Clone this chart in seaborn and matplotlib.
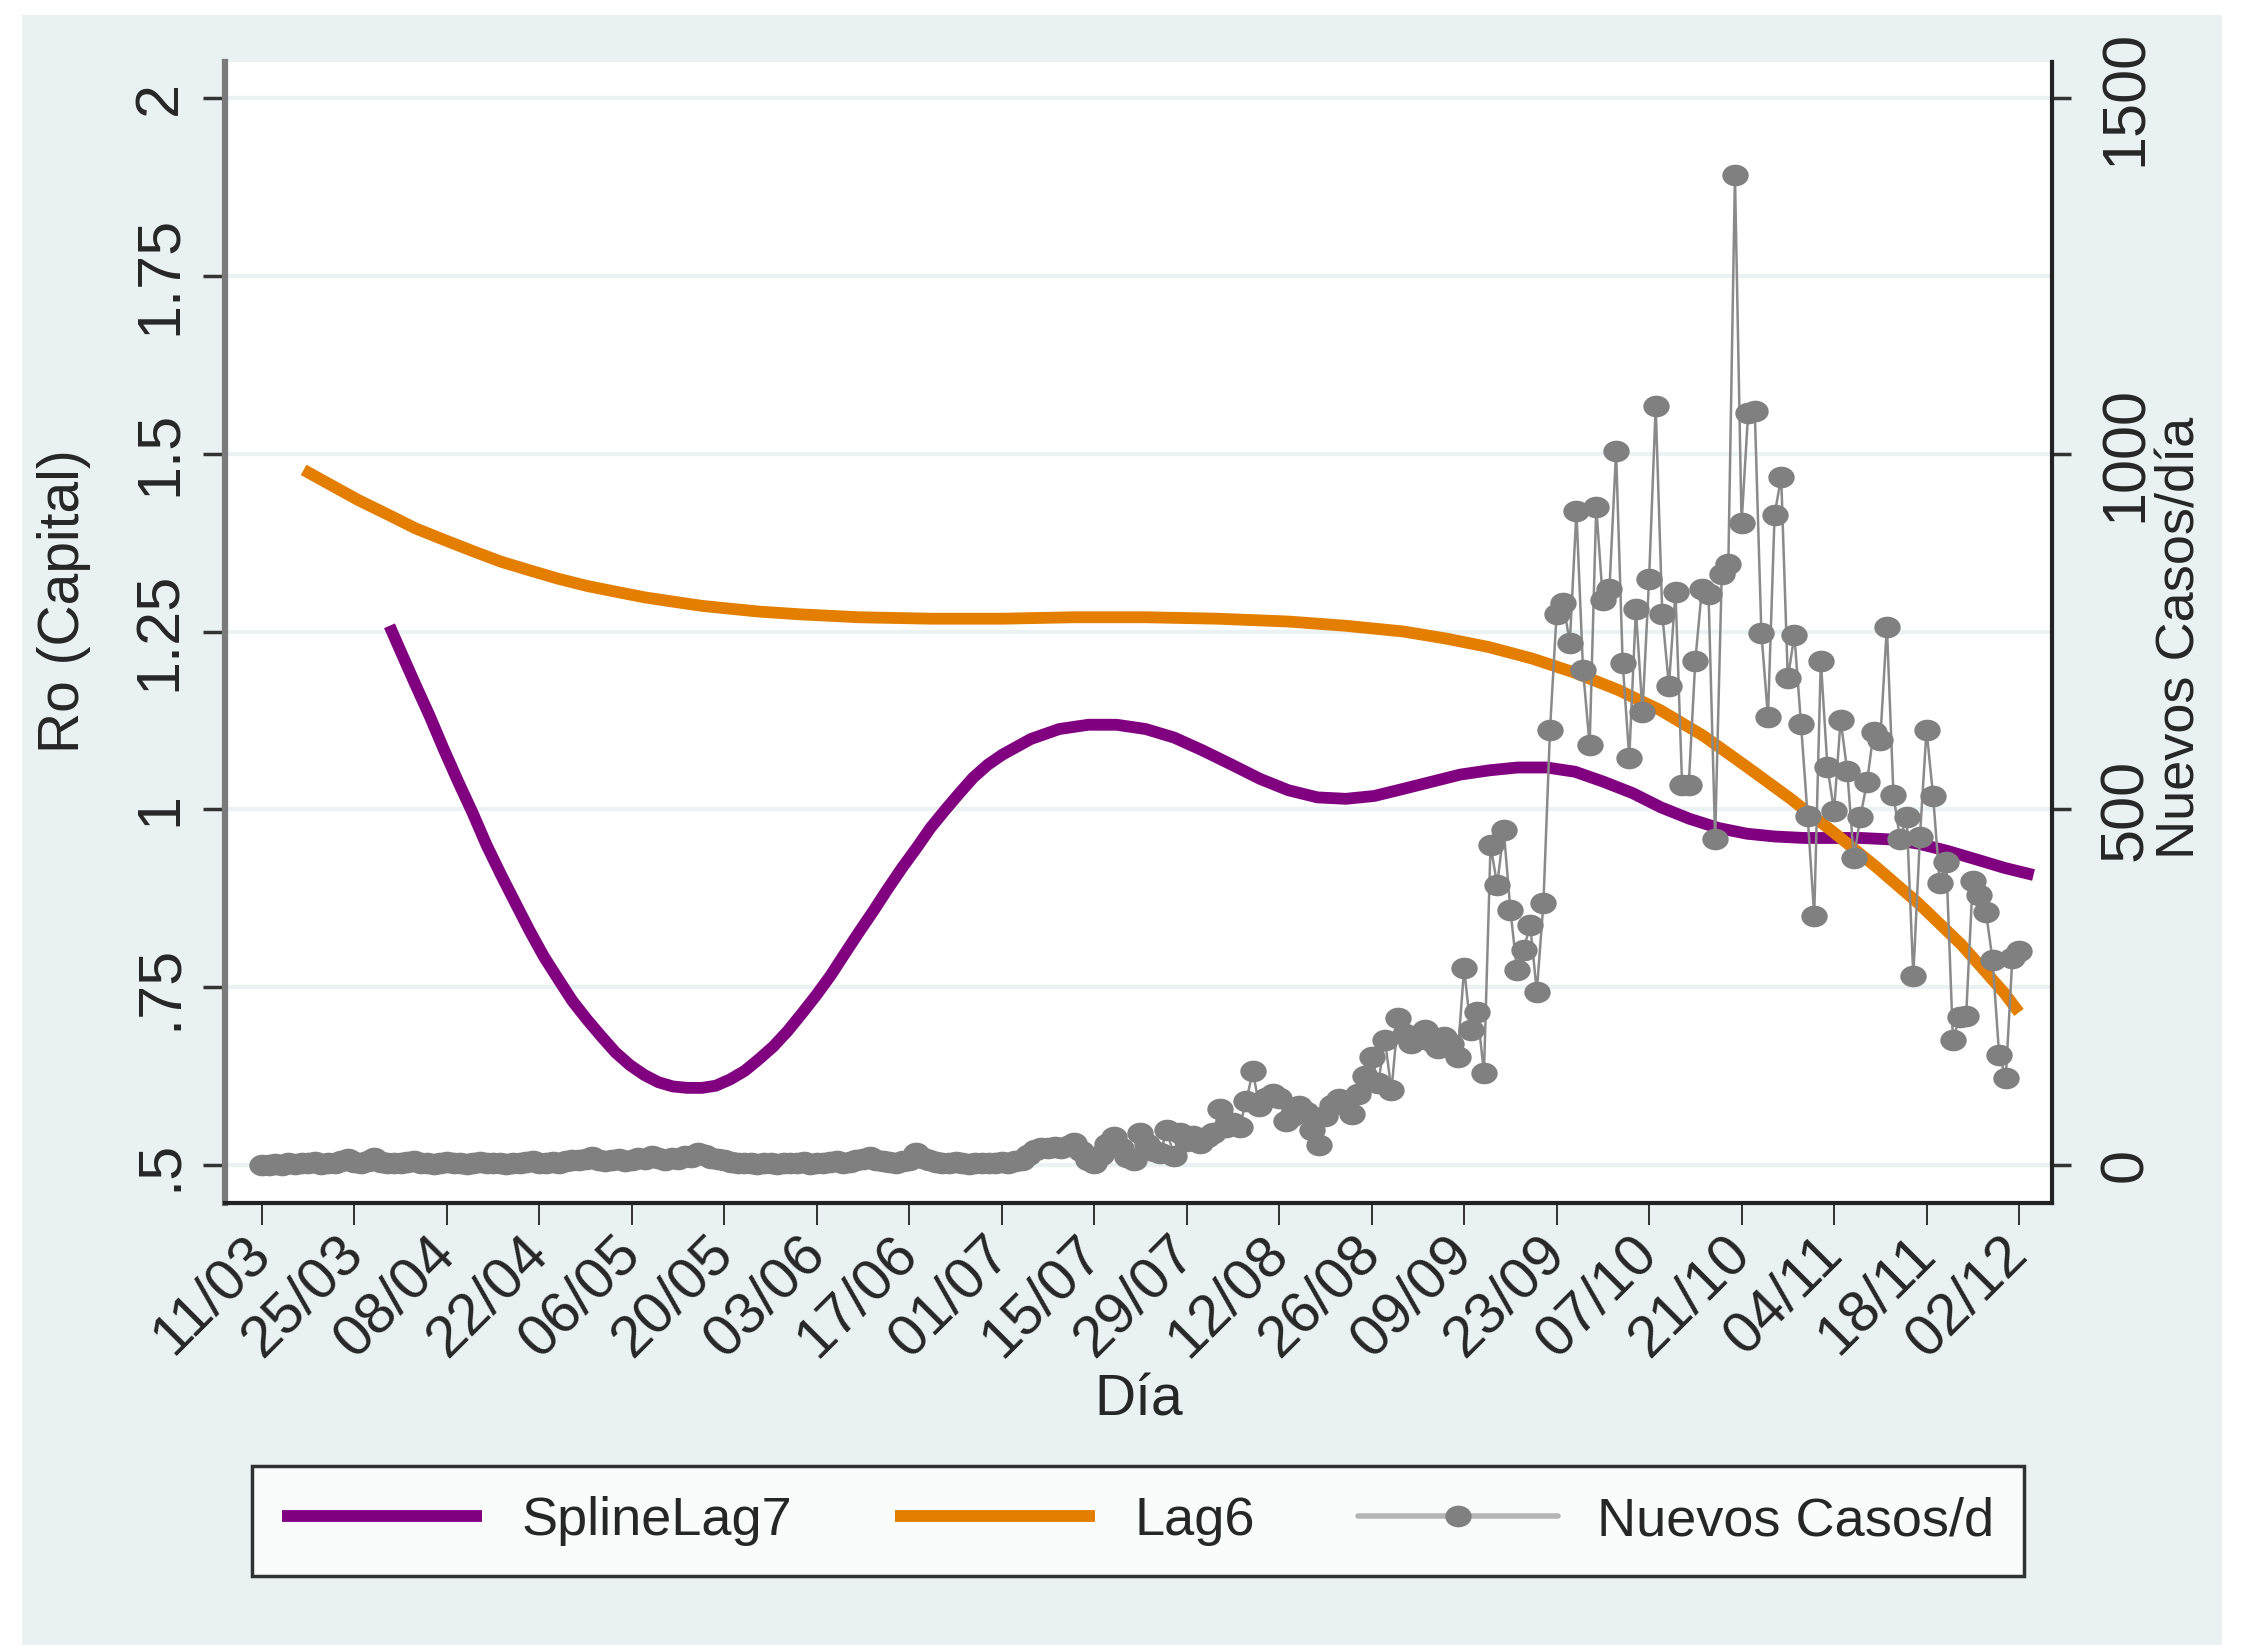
import numpy as np
import matplotlib
matplotlib.use("Agg")
import matplotlib.pyplot as plt
import seaborn as sns
from matplotlib.path import Path
from matplotlib.lines import Line2D
from matplotlib.patches import Rectangle

# ---------------- data ----------------
tick_labels = ["11/03", "25/03", "08/04", "22/04", "06/05", "20/05", "03/06",
               "17/06", "01/07", "15/07", "29/07", "12/08", "26/08", "09/09",
               "23/09", "07/10", "21/10", "04/11", "18/11", "02/12"]
tick_days = [0, 14, 28, 42, 56, 70, 84, 98, 112, 126, 140, 154, 168, 182,
             196, 210, 224, 238, 252, 266]

ro_ticks = [0.5, 0.75, 1.0, 1.25, 1.5, 1.75, 2.0]
ro_tick_labels = [".5", ".75", "1", "1.25", "1.5", "1.75", "2"]
cases_ticks = [0, 500, 1000, 1500]
cases_tick_labels = ["0", "500", "1000", "1500"]

# SplineLag7 (Ro), day index since 11/03
spline_days = [19.3, 21.0, 23.2, 25.4, 27.5, 29.7, 31.9, 34.0, 36.2, 38.4,
               40.5, 42.7, 44.9, 47.0, 49.2, 51.4, 53.5, 55.7, 57.9, 60.0,
               62.2, 64.4, 66.6, 68.7, 70.9, 73.1, 75.2, 77.4, 79.6, 81.7,
               83.9, 86.1, 88.2, 90.4, 92.6, 94.7, 96.9, 99.1, 101.2, 103.4,
               105.6, 107.7, 109.9, 112.1, 116.4, 120.7, 125.1, 129.4, 133.8,
               138.1, 142.4, 146.8, 151.1, 155.4, 159.8, 164.1, 168.4, 172.8,
               177.1, 181.4, 185.8, 190.1, 194.5, 198.8, 203.1, 207.5, 211.8,
               216.1, 220.5, 224.8, 229.1, 233.5, 237.8, 242.1, 246.5, 250.8,
               255.1, 259.5, 263.8, 268.2]
spline_ro = [1.258, 1.222, 1.176, 1.131, 1.085, 1.039, 0.995, 0.950, 0.908,
             0.868, 0.830, 0.793, 0.761, 0.731, 0.705, 0.681, 0.659, 0.641,
             0.627, 0.617, 0.611, 0.609, 0.609, 0.612, 0.621, 0.633, 0.649,
             0.667, 0.689, 0.713, 0.739, 0.767, 0.797, 0.828, 0.858, 0.888,
             0.918, 0.946, 0.974, 0.999, 1.023, 1.045, 1.063, 1.077, 1.099,
             1.113, 1.119, 1.119, 1.113, 1.101, 1.083, 1.063, 1.043, 1.027,
             1.017, 1.015, 1.019, 1.029, 1.039, 1.049, 1.055, 1.059, 1.059,
             1.053, 1.039, 1.023, 1.003, 0.987, 0.974, 0.966, 0.962, 0.960,
             0.960, 0.960, 0.958, 0.952, 0.942, 0.930, 0.918, 0.908]

# Lag6 (Ro)
lag6_days = [6.3, 10.2, 14.5, 18.9, 23.2, 27.5, 31.9, 36.2, 40.5, 44.9, 49.2,
             53.5, 57.9, 62.2, 66.6, 70.9, 75.2, 81.7, 90.4, 101.2, 112.1,
             122.9, 133.8, 144.6, 155.4, 164.1, 172.8, 179.3, 185.8, 192.3,
             198.8, 205.3, 211.8, 218.3, 224.8, 231.3, 237.8, 244.3, 250.8,
             257.3, 263.8, 266.0]
lag6_ro = [1.477, 1.457, 1.435, 1.415, 1.395, 1.379, 1.363, 1.348, 1.336,
           1.324, 1.314, 1.306, 1.298, 1.292, 1.286, 1.282, 1.278, 1.274,
           1.270, 1.268, 1.268, 1.270, 1.270, 1.268, 1.264, 1.258, 1.250,
           1.240, 1.228, 1.212, 1.192, 1.168, 1.139, 1.103, 1.060, 1.016,
           0.969, 0.920, 0.868, 0.810, 0.742, 0.715]

# Nuevos casos por dia (daily, from 11/03)
cases_mar_may = [1, 0, 2, 1, 3, 2, 4, 3, 5, 2,
                 4, 3, 6, 9, 5, 4, 6, 10, 5, 3,
                 4, 3, 5, 6, 4, 3, 2, 4, 5, 3,
                 4, 2, 3, 5, 4, 3, 4, 2, 3, 4,
                 5, 6, 4, 3, 5, 4, 6, 8, 7, 9,
                 12, 8, 6, 7, 9, 6, 8, 10, 9, 13,
                 10, 8, 11, 9, 14, 12, 18, 15, 11, 9]
cases_may_jun = [7, 5, 4, 3, 4, 2, 3, 4, 2, 3,
                 4, 3, 5, 2, 4, 3, 5, 6, 4, 5,
                 7, 9, 12, 8, 6, 5, 4, 6, 8, 17,
                 10, 7, 5, 4, 3, 5, 4, 2, 3, 4]
cases_jun_aug = [4, 3, 5, 4, 6, 8, 15, 22, 25, 24,
                 26, 25, 28, 31, 20, 8, 3, 15, 30, 40,
                 25, 12, 8, 45, 30, 20, 17, 50, 14, 45,
                 35, 42, 31, 40, 45, 80, 54, 60, 54, 90,
                 132, 83, 95, 100, 95, 62, 70, 83, 75, 50,
                 29, 70, 85, 93, 88, 73, 100, 125, 153, 116,
                 176, 106, 207]
cases_aug_sep = [185, 172, 178, 190, 175, 165, 180, 170, 153, 277,
                 190, 216, 130, 450, 394, 471, 359, 274, 303, 338,
                 244, 368, 612, 775, 790, 734, 919, 696, 590, 925,
                 794, 810]
cases_oct = [1003, 706, 573, 781, 637, 824, 1067, 774, 674, 806,
             534, 534, 709, 810, 803, 459, 831, 845, 1391, 902,
             1057, 1060, 748, 630, 914, 967, 684, 745, 620, 491, 351]
cases_nov = [709, 560, 498, 626, 554, 432, 490, 539, 609, 598,
             757, 520, 458, 490, 266, 461, 612, 519, 397, 426,
             176, 208, 210, 400, 380, 356, 289, 155, 123, 292, 301]

cases = np.array(cases_mar_may + cases_may_jun + cases_jun_aug +
                 cases_aug_sep + cases_oct + cases_nov, dtype=float)
case_days = np.arange(len(cases))

# ---------------- style ----------------
PURPLE = "#800080"
ORANGE = "#E37E00"
GREY = "#808080"
OUTER = "#E9F1F3"
GRID = "#EAF2F3"

sns.set_style("white")
plt.rcParams["font.family"] = ["Liberation Sans Narrow", "Liberation Sans", "DejaVu Sans"]

W, H = 2245, 1645
fig = plt.figure(figsize=(W / 100, H / 100), dpi=100, facecolor="white")
fig.patches.append(Rectangle((22 / W, 0), (2222 - 22) / W, (H - 15) / H,
                             transform=fig.transFigure, facecolor=OUTER,
                             edgecolor="none", zorder=-10))

L, R, T, B = 225, 2052, 62, 1203
ax = fig.add_axes([L / W, (H - B) / H, (R - L) / W, (B - T) / H])
ax.set_facecolor("white")

ro_lo, ro_hi = 0.4473, 2.0499
ax.set_xlim(-5.6, 271.0)
ax.set_ylim(ro_lo, ro_hi)

ax.set_yticks(ro_ticks)
ax.set_yticklabels(ro_tick_labels)
ax.grid(axis="y", color=GRID, lw=3)
ax.grid(axis="x", visible=False)
ax.set_axisbelow(True)

sns.lineplot(x=spline_days, y=spline_ro, ax=ax, color=PURPLE, lw=8.5,
             legend=False, solid_capstyle="butt", solid_joinstyle="round")
sns.lineplot(x=lag6_days, y=lag6_ro, ax=ax, color=ORANGE, lw=8.5,
             legend=False, solid_capstyle="butt", solid_joinstyle="round")

ax2 = ax.twinx()
ax2.set_ylim((ro_lo - 0.5) * 1000, (ro_hi - 0.5) * 1000)

circ = Path.unit_circle()
ellipse = Path(circ.vertices * np.array([1.0, 0.82]), circ.codes)

sns.lineplot(x=case_days, y=cases, ax=ax2, color="#8a8a8a", lw=1.8,
             marker=ellipse, markersize=19, markerfacecolor=GREY,
             markeredgecolor=GREY, markeredgewidth=0, legend=False)

# ticks
ax.set_xticks(tick_days)
ax.set_xticklabels(tick_labels, fontsize=42)
for t in ax.get_xticklabels():
    t.set_rotation(45)
    t.set_ha("right")
    t.set_va("center")
    t.set_rotation_mode("anchor")
ax.tick_params(axis="x", direction="out", length=16, width=1.3,
               color="#222222", pad=14, bottom=True)
ax.tick_params(axis="y", direction="out", length=16, width=2.5,
               color="#333333", labelsize=44, pad=10, left=True)
for t in ax.get_yticklabels():
    t.set_rotation(90)
    t.set_va("center")
    t.set_ha("right")

ax2.set_yticks(cases_ticks)
ax2.set_yticklabels(cases_tick_labels)
ax2.tick_params(axis="y", direction="out", length=14, width=2.5,
                color="#333333", labelsize=44, pad=19, right=True)
for t in ax2.get_yticklabels():
    t.set_rotation(90)
    t.set_va("center")
    t.set_ha("left")

# spines
for a in (ax, ax2):
    a.spines["top"].set_visible(False)
ax.spines["right"].set_visible(False)
ax2.spines["left"].set_visible(False)
ax2.spines["bottom"].set_visible(False)
ax.spines["left"].set_color("#7a7a7a")
ax.spines["left"].set_linewidth(4.5)
ax.spines["bottom"].set_color("#222222")
ax.spines["bottom"].set_linewidth(3)
ax2.spines["right"].set_color("#222222")
ax2.spines["right"].set_linewidth(3)

# axis titles
ax.set_xlabel("Día", fontsize=41, va="center")
ax.xaxis.set_label_coords(0.5, -0.1727)
ax.set_ylabel("Ro (Capital)", fontsize=41, va="center")
ax.yaxis.set_label_coords(-0.0881, 0.5276)
ax2.set_ylabel("Nuevos Casos/día", fontsize=39, rotation=90)
ax2.yaxis.label.set_va("center")
ax2.yaxis.set_label_coords(1.0706, 0.495)

# legend
handles = [
    Line2D([], [], color=PURPLE, lw=8.5, solid_capstyle="butt"),
    Line2D([], [], color=ORANGE, lw=8.5, solid_capstyle="butt"),
    Line2D([], [], color="#b5b5b5", lw=4, marker=ellipse, markersize=19,
           markerfacecolor=GREY, markeredgecolor=GREY, markeredgewidth=0),
]
labels = ["SplineLag7", "Lag6", "Nuevos Casos/d"]
leg = fig.legend(handles, labels, loc="center", bbox_to_anchor=(1138 / W, 1 - 1521 / H),
                 ncol=3, frameon=True, fancybox=False, edgecolor="black",
                 fontsize=39, handlelength=3.7, handletextpad=0.72,
                 columnspacing=1.9, borderpad=0.55, numpoints=1)
leg.get_frame().set_linewidth(2.5)
leg.get_frame().set_facecolor("white")

fig.savefig("out.png", dpi=100, facecolor=fig.get_facecolor())
